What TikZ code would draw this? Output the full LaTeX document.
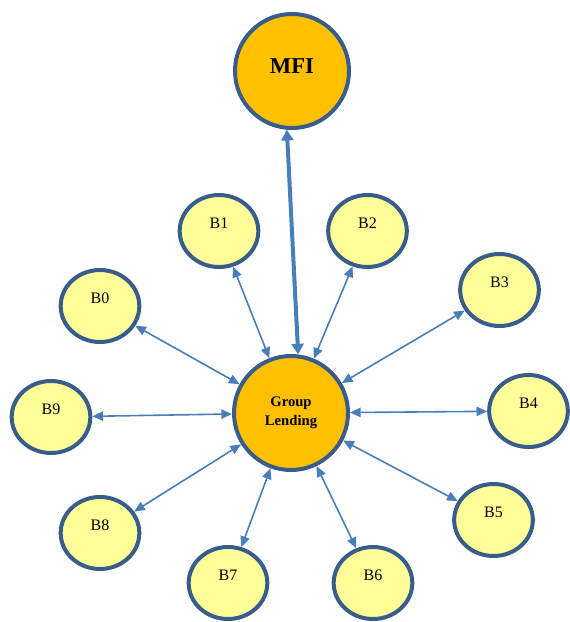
\documentclass[tikz,border=0pt]{standalone}
\usepackage{fontspec}
\setmainfont{Liberation Serif}
\usetikzlibrary{shapes.geometric, arrows.meta}
\definecolor{ringblue}{HTML}{385D8A}
\definecolor{linkblue}{HTML}{4A7EBB}
\definecolor{borrower}{HTML}{FFFF99}
\definecolor{hub}{HTML}{FFC000}
\begin{document}
\begin{tikzpicture}[x=0.75pt, y=-0.75pt,
    % Styles
    bigcircle/.style={circle, draw=ringblue, line width=3pt, fill=hub, minimum size=85.5pt, inner sep=0pt, align=center},
    borrowernode/.style={ellipse, draw=ringblue, line width=3pt, fill=borrower, minimum width=59pt, minimum height=54pt, inner sep=0pt,
        label={[font=\fontsize{12}{14}\selectfont, yshift=6pt]center:#1}},
    link/.style={{Triangle[length=8pt,width=7pt]}-{Triangle[length=8pt,width=7pt]}, line width=1.2pt, linkblue},
    mfilink/.style={{Triangle[length=8pt,width=9pt]}-{Triangle[length=8pt,width=9pt]}, line width=3pt, linkblue},
]
\useasboundingbox (0,0) rectangle (569,622);

% MFI and group
\node[bigcircle] (mfi) at (292,71) {\raisebox{7pt}{\fontsize{17}{20}\selectfont\bfseries MFI}};
\node[bigcircle, font=\fontsize{11}{12.4}\selectfont\bfseries] (group) at (291,413) {\raisebox{-3pt}{\shortstack{Group\\[1pt]Lending}}};
\draw[mfilink] (mfi.-95) -- (group.83);

% Borrowers
\node[borrowernode=B0] (b0) at (100,306) {};
\node[borrowernode=B1] (b1) at (219,231) {};
\node[borrowernode=B2] (b2) at (367.5,231) {};
\node[borrowernode=B3] (b3) at (499.5,290) {};
\node[borrowernode=B4] (b4) at (528.5,411) {};
\node[borrowernode=B5] (b5) at (493.5,520) {};
\node[borrowernode=B6] (b6) at (373,583) {};
\node[borrowernode=B7] (b7) at (228,583) {};
\node[borrowernode=B8] (b8) at (100,533) {};
\node[borrowernode=B9] (b9) at (51,417) {};

% Links to the group
\draw[link] (b0) -- (group);
\draw[link] (b1) -- (group);
\draw[link] (b2) -- (group);
\draw[link] (b3) -- (group);
\draw[link] (b4) -- (group);
\draw[link] (b5) -- (group);
\draw[link] (b6) -- (group);
\draw[link] (b7) -- (group);
\draw[link] (b8) -- (group);
\draw[link] (b9) -- (group);

\end{tikzpicture}
\end{document}
